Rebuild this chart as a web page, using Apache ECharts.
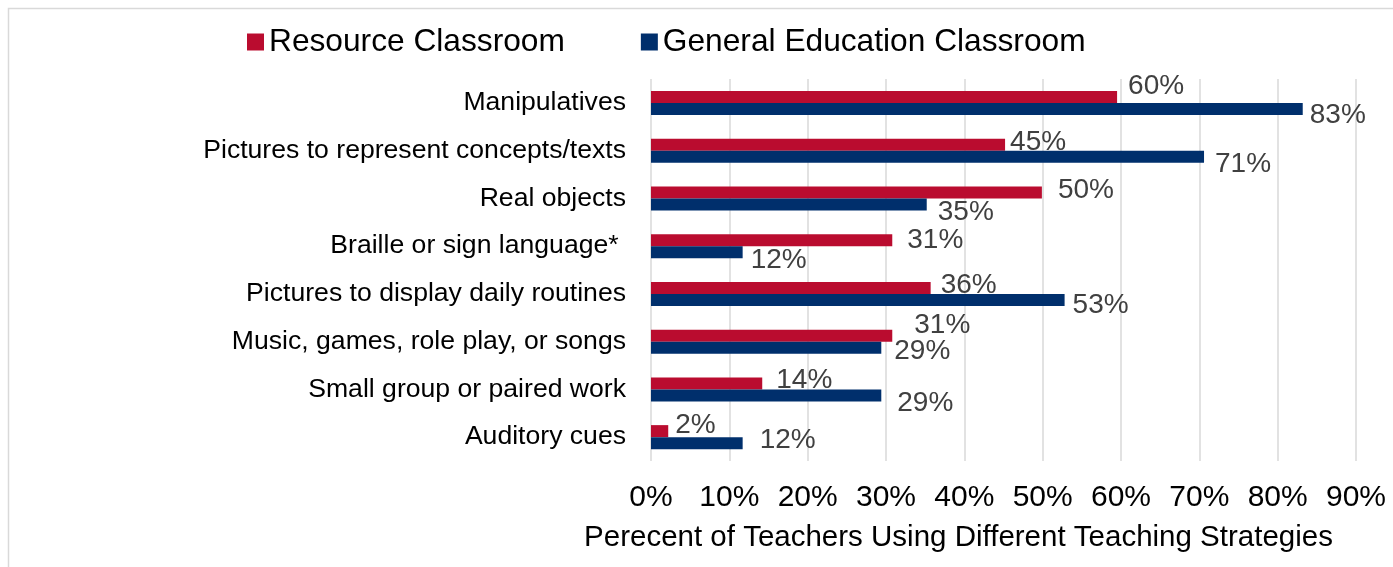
<!DOCTYPE html>
<html>
<head>
<meta charset="utf-8">
<script src="https://cdn.jsdelivr.net/npm/echarts@6/dist/echarts.min.js"></script>
<style>
  html, body { margin: 0; padding: 0; background: #fff; }
  #chart { width: 1393px; height: 567px; }
</style>
</head>
<body>
<div id="chart"></div>
<script>
var categories = [
  "Manipulatives",
  "Pictures to represent concepts/texts",
  "Real objects",
  "Braille or sign language* ",
  "Pictures to display daily routines",
  "Music, games, role play, or songs",
  "Small group or paired work",
  "Auditory cues"
];
var resourceValues = [59.5, 45.2, 49.9, 30.8, 35.7, 30.8, 14.2, 2.2];
var generalValues = [83.2, 70.6, 35.2, 11.7, 52.8, 29.4, 29.4, 11.7];
var xTicks = [0, 10, 20, 30, 40, 50, 60, 70, 80, 90];

// label nudges (labels were hand placed in the original)
var resourceLabelNudge = [[11, -11], [5, -2], [16, -2], [15, 0], [10, -3], [22, -10], [14, -3], [7, -6]];
var generalLabelNudge = [[7, 6], [11, 8], [11, 8], [8, 8], [8, 5], [13, 4], [16, 8], [17, -3]];

var FONT = "'Liberation Sans', Arial, sans-serif";

function buildData(values, nudges) {
  return values.map(function (v, i) {
    return {
      value: v,
      label: { offset: nudges[i] }
    };
  });
}

var myChart = echarts.init(document.getElementById("chart"));

var option = {
  animation: false,
  textStyle: { fontFamily: FONT },
  graphic: [
    {
      type: "rect",
      shape: { x: 8.5, y: 8.5, width: 1400, height: 600 },
      style: { fill: "none", stroke: "#d9d9d9", lineWidth: 1.5 }
    }
  ],
  legend: {
    left: 242,
    top: 21,
    itemWidth: 17,
    itemHeight: 17,
    itemGap: 76,
    icon: "rect",
    textStyle: { fontSize: 31.7, color: "#000", fontFamily: FONT, padding: [0, 0, 0, 0] },
    data: ["Resource Classroom", "General Education Classroom"]
  },
  grid: {
    left: 651,
    right: 37,
    top: 79,
    bottom: 106,
    containLabel: false
  },
  xAxis: {
    type: "value",
    min: 0,
    max: 90,
    interval: 10,
    axisLine: { show: false },
    axisTick: { show: false },
    splitLine: { lineStyle: { color: "#d9d9d9", width: 1.5 } },
    axisLabel: {
      margin: 22,
      fontSize: 30,
      color: "#000",
      fontFamily: FONT,
      formatter: function (v) {
        return xTicks.indexOf(v) >= 0 ? v + "%" : "";
      }
    },
    name: "Perecent of Teachers Using Different Teaching Strategies",
    nameLocation: "middle",
    nameGap: 62,
    nameTextStyle: {
      fontSize: 29.5,
      color: "#000",
      fontFamily: FONT,
      padding: [0, 90, 0, 0]
    }
  },
  yAxis: {
    type: "category",
    inverse: true,
    data: categories,
    axisLine: { show: false },
    axisTick: { show: false },
    axisLabel: {
      margin: 25,
      fontSize: 26.6,
      color: "#000",
      fontFamily: FONT
    }
  },
  series: [
    {
      name: "Resource Classroom",
      type: "bar",
      barWidth: 12,
      barGap: "0%",
      itemStyle: { color: "#BA0C2F" },
      label: {
        show: true,
        position: "right",
        distance: 0,
        fontSize: 28,
        color: "#404040",
        fontFamily: FONT,
        formatter: function (p) { return Math.round(p.value) + "%"; }
      },
      data: buildData(resourceValues, resourceLabelNudge)
    },
    {
      name: "General Education Classroom",
      type: "bar",
      barWidth: 12,
      barGap: "0%",
      itemStyle: { color: "#002F6C" },
      label: {
        show: true,
        position: "right",
        distance: 0,
        fontSize: 28,
        color: "#404040",
        fontFamily: FONT,
        formatter: function (p) { return Math.round(p.value) + "%"; }
      },
      data: buildData(generalValues, generalLabelNudge)
    }
  ]
};

myChart.setOption(option);
</script>
</body>
</html>
